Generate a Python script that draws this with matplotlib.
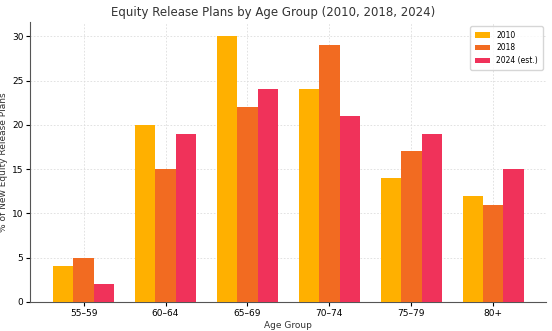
import matplotlib.pyplot as plt
import numpy as np

groups = ['55–59', '60–64', '65–69', '70–74', '75–79', '80+']
y2010 = [4, 20, 30, 24, 14, 12]
y2018 = [5, 15, 22, 29, 17, 11]
y2024 = [2, 19, 24, 21, 19, 15]

x = np.arange(len(groups))
w = 0.25

fig, ax = plt.subplots(figsize=(5.52, 3.31), dpi=100)
ax.bar(x - w, y2010, w, color='#FFB000', label='2010', zorder=3)
ax.bar(x, y2018, w, color='#F26B21', label='2018', zorder=3)
ax.bar(x + w, y2024, w, color='#F0325A', label='2024 (est.)', zorder=3)

ax.set_xticks(x)
ax.set_xticklabels(groups, fontsize=6.5)
ax.tick_params(axis='both', labelsize=6.5, pad=2, length=3)
ax.set_xlim(-0.65, 5.65)
ax.set_ylim(0, 31.6)
ax.set_yticks([0, 5, 10, 15, 20, 25, 30])
ax.grid(True, linestyle=(0, (2, 2)), color='#dddddd', linewidth=0.6, zorder=0)
ax.spines['top'].set_visible(False)
ax.spines['right'].set_visible(False)
ax.spines['left'].set_color('#555555')
ax.spines['bottom'].set_color('#555555')
# title sits centred on the figure rather than the axes
fig.text(0.494, 0.962, 'Equity Release Plans by Age Group (2010, 2018, 2024)',
         fontsize=8.5, color='#333333', ha='center', va='center')
ax.set_xlabel('Age Group', fontsize=6.5, labelpad=2, color='#333333')
ax.set_ylabel('% of New Equity Release Plans', fontsize=6.5, labelpad=3, color='#333333')
ax.legend(fontsize=5.5, loc='upper right', borderpad=0.6)

plt.subplots_adjust(left=0.055, right=0.99, top=0.933, bottom=0.088)
plt.savefig('out.png')
